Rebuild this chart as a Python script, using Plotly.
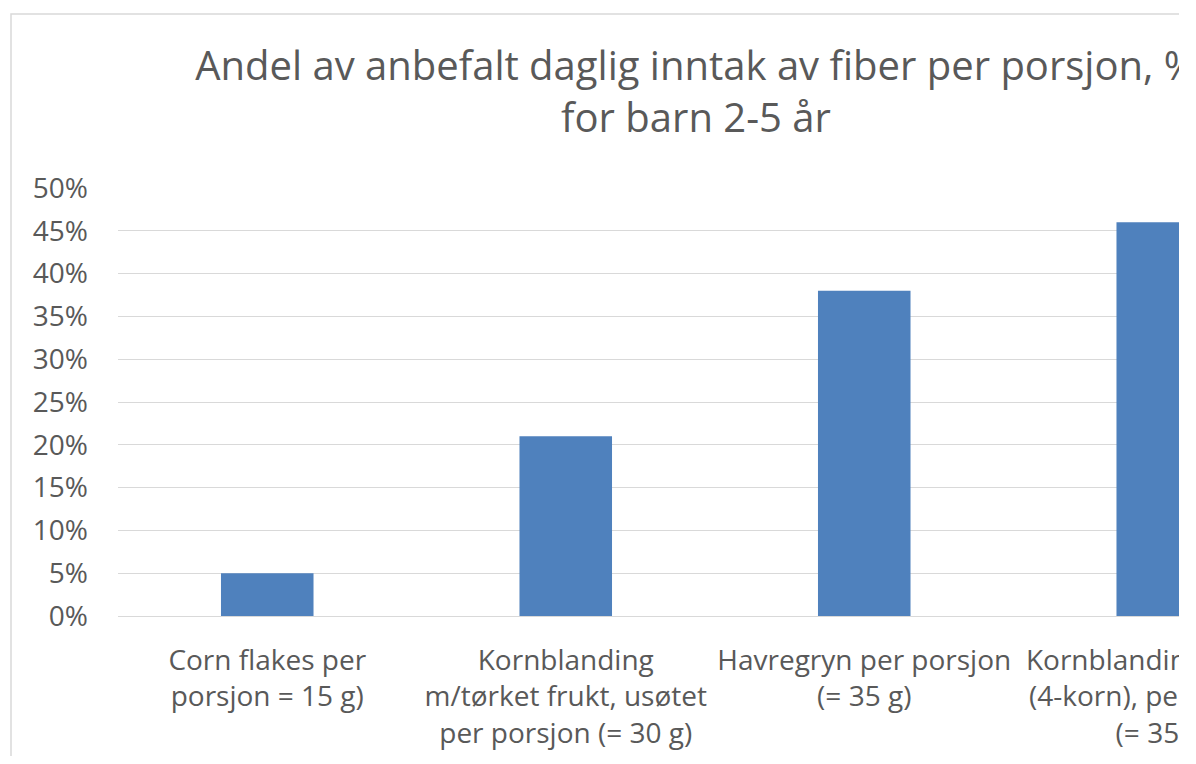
import plotly.graph_objects as go

categories = [
    "Corn flakes per<br>porsjon = 15 g)",
    "Kornblanding<br>m/tørket frukt, usøtet<br>per porsjon (= 30 g)",
    "Havregryn per porsjon<br>(= 35 g)",
    "Kornblanding, usøtet<br>(4-korn), per porsjon<br>(= 35 g)",
]
values = [0.05, 0.21, 0.38, 0.46]
y_ticks = [0, 0.05, 0.10, 0.15, 0.20, 0.25, 0.30, 0.35, 0.40, 0.45, 0.50]

title_text = "Andel av anbefalt daglig inntak av fiber per porsjon, %<br>for barn 2-5 år"

FONT = "Open Sans"
TXT = "#595959"
GRID = "#d9d9d9"

W, H = 1171, 748
ML, MR, MT, MB = 110, 0, 180, 140

fig = go.Figure(
    go.Bar(
        x=list(range(len(categories))),
        y=values,
        marker=dict(color="#4f81bd", line=dict(width=0)),
        hoverinfo="skip",
    )
)

fig.update_layout(
    template="none",
    width=W,
    height=H,
    margin=dict(l=ML, r=MR, t=MT, b=MB, pad=0),
    paper_bgcolor="white",
    plot_bgcolor="white",
    showlegend=False,
    bargap=0.69,
    font=dict(family=FONT, color=TXT, size=28),
    title=dict(
        text=title_text,
        x=688 / W,
        xanchor="center",
        xref="container",
        y=1 - 72 / H,
        yanchor="top",
        yref="container",
        font=dict(family=FONT, size=40, color=TXT),
    ),
    xaxis=dict(
        tickmode="array",
        tickvals=list(range(len(categories))),
        ticktext=categories,
        range=[-0.5, -0.5 + (W - ML - MR) / 298.5],
        showgrid=False,
        zeroline=False,
        showline=False,
        ticks="",
        tickangle=0,
        automargin=False,
        ticklabeloverflow="allow",
        ticklabelstandoff=25,
        tickfont=dict(family=FONT, size=28, color=TXT),
    ),
    yaxis=dict(
        range=[0, 0.5],
        tickmode="array",
        tickvals=y_ticks,
        tickformat=".0%",
        showgrid=True,
        gridcolor=GRID,
        gridwidth=1.3,
        zeroline=True,
        zerolinecolor=GRID,
        zerolinewidth=1.3,
        showline=False,
        ticks="",
        automargin=False,
        ticklabelstandoff=29,
        tickfont=dict(family=FONT, size=28, color=TXT),
    ),
    shapes=[
        dict(
            type="rect",
            xref="paper",
            yref="paper",
            x0=(3 - ML) / (W - ML - MR),
            x1=1.2,
            y0=-0.5,
            y1=(H - MB - 6) / (H - MT - MB),
            line=dict(color=GRID, width=1.5),
            fillcolor="rgba(0,0,0,0)",
            layer="below",
        )
    ],
)

fig.write_html("out.html")
